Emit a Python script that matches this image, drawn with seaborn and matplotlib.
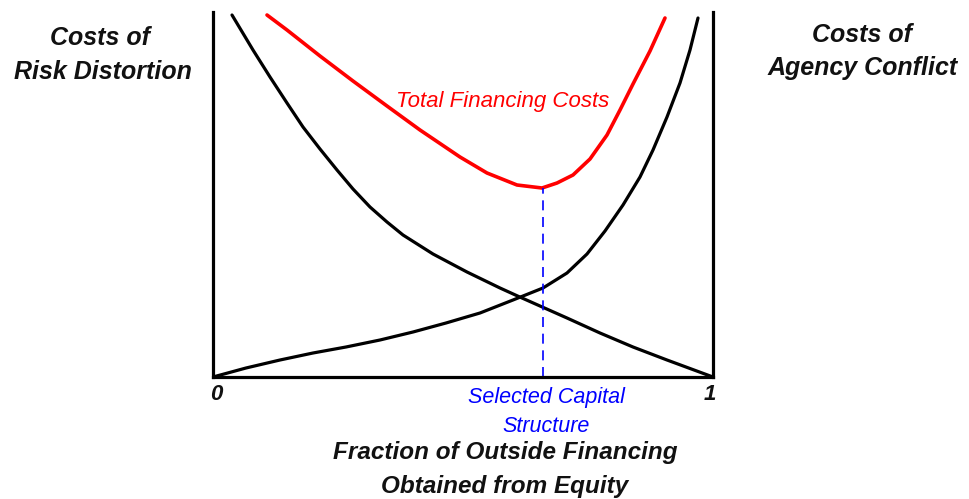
import numpy as np
import pandas as pd
import seaborn as sns
import matplotlib.pyplot as plt

# values: x = fraction of equity (0..1), y = cost (arbitrary units)
risk_x = [0.038, 0.080, 0.114, 0.148, 0.180, 0.214, 0.248, 0.280, 0.314, 0.348,
          0.380, 0.440, 0.508, 0.574, 0.618, 0.708, 0.774, 0.840, 0.908, 1.0]
risk_y = [362, 327, 300, 274, 250, 228, 207, 188, 170, 155,
          142, 123, 105, 89, 79, 59, 44, 30, 17, 0]

agency_x = [0.0, 0.066, 0.134, 0.200, 0.266, 0.334, 0.400, 0.466, 0.534, 0.600,
            0.660, 0.708, 0.748, 0.784, 0.820, 0.854, 0.880, 0.908, 0.934, 0.954, 0.970]
agency_y = [0, 9, 17, 24, 30, 37, 45, 54, 64, 77,
            89, 104, 123, 146, 172, 200, 227, 260, 294, 327, 359]

total_x = [0.108, 0.148, 0.214, 0.280, 0.348, 0.414, 0.494, 0.548, 0.608, 0.658,
           0.688, 0.720, 0.754, 0.788, 0.814, 0.840, 0.874, 0.904]
total_y = [362, 347, 321, 296, 271, 247, 220, 204, 192, 189,
           194, 202, 218, 242, 267, 293, 326, 359]

selected_x = 0.66
selected_y = 189

sns.set_style("white")
plt.rcParams['font.family'] = ['Liberation Sans', 'DejaVu Sans']

fig = plt.figure(figsize=(9.69, 4.99), dpi=100)
ax = fig.add_axes([213 / 969, 1 - 377 / 499, 500 / 969, 365 / 499])

sns.lineplot(x=risk_x, y=risk_y, ax=ax, color='black', lw=2.3, sort=False)
sns.lineplot(x=agency_x, y=agency_y, ax=ax, color='black', lw=2.3, sort=False)
sns.lineplot(x=total_x, y=total_y, ax=ax, color='#ff0000', lw=2.6, sort=False)
ax.plot([selected_x, selected_x], [0, selected_y], color='#0000ff', lw=1.2, ls=(0, (6, 4)))

ax.set_xlim(0, 1)
ax.set_ylim(0, 365)
ax.set_xticks([])
ax.set_yticks([])
for s in ['left', 'right', 'bottom']:
    ax.spines[s].set_visible(True)
    ax.spines[s].set_color('black')
    ax.spines[s].set_linewidth(2.3)
ax.spines['top'].set_visible(False)

ax.text(0.366, 275, 'Total Financing Costs', color='#ff0000', style='italic',
        fontsize=16, va='center', ha='left')

bi = dict(fontweight='bold', style='italic', color='#111111')
fig.text(100 / 969, 1 - 38 / 499, 'Costs of', fontsize=18, ha='center', va='center', **bi)
fig.text(103 / 969, 1 - 72 / 499, 'Risk Distortion', fontsize=18, ha='center', va='center', **bi)
fig.text(862 / 969, 1 - 35 / 499, 'Costs of', fontsize=18, ha='center', va='center', **bi)
fig.text(863 / 969, 1 - 68 / 499, 'Agency Conflict', fontsize=18, ha='center', va='center', **bi)

fig.text(216 / 969, 1 - 394 / 499, '0', fontsize=16, ha='center', va='center', **bi)
fig.text(710 / 969, 1 - 394 / 499, '1', fontsize=16, ha='center', va='center', **bi)

fig.text(546 / 969, 1 - 398 / 499, 'Selected Capital', fontsize=15.5, ha='center', va='center',
         color='#0000ff', style='italic')
fig.text(546 / 969, 1 - 426 / 499, 'Structure', fontsize=15.5, ha='center', va='center',
         color='#0000ff', style='italic')

fig.text(505 / 969, 1 - 453 / 499, 'Fraction of Outside Financing', fontsize=17.5,
         ha='center', va='center', **bi)
fig.text(505 / 969, 1 - 486 / 499, 'Obtained from Equity', fontsize=17.5,
         ha='center', va='center', **bi)

fig.savefig('out.png', dpi=100)
